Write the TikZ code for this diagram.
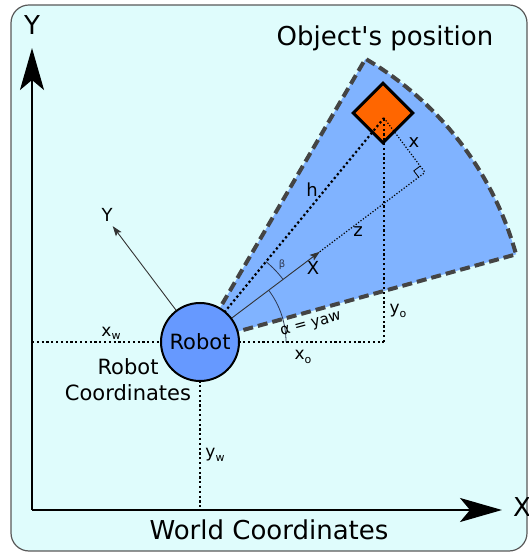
\documentclass[tikz,border=0pt]{standalone}
\usepackage{fontspec}
\setmainfont{DejaVu Sans}
\usetikzlibrary{arrows.meta,calc}
\definecolor{bgc}{RGB}{223,252,252}
\definecolor{sectc}{RGB}{128,179,255}
\definecolor{robc}{RGB}{102,153,255}
\definecolor{objc}{RGB}{255,102,0}
\definecolor{dashc}{RGB}{68,68,68}
\definecolor{arcc}{RGB}{45,55,80}
\newcommand{\fsz}[1]{\fontsize{#1}{#1}\selectfont}
\newcommand{\subw}[2]{#1\raisebox{-0.35ex}{\fsz{11}#2}}
\begin{document}
\begin{tikzpicture}[x=1pt,y=1pt,
  bigdot/.style={line width=2.2pt,dash pattern=on 2.2pt off 2.6pt,black},
  thindot/.style={line width=1.2pt,dash pattern=on 1.2pt off 1.8pt,black},
  worldaxis/.style={line width=2.4pt,-{Stealth[length=42pt,width=24pt,inset=10pt]}},
  robaxis/.style={line width=0.9pt,black!80,-{Stealth[length=10pt,width=7pt,inset=2pt]}},
  anglearc/.style={line width=0.8pt,arcc},
  lbl/.style={inner sep=0,font=\fsz{18}},
  biglbl/.style={inner sep=0,font=\fsz{26}}
]
\useasboundingbox (0,0) rectangle (528,552);
\draw[fill=bgc,draw=black!65,line width=1.2pt,rounded corners=18pt] (11,1) rectangle (527,547);

% key points
\coordinate (C) at (200,210);
\coordinate (O) at (384,434);
\coordinate (Xt) at ($(C)+(37:150)$);
\coordinate (Yt) at ($(C)+(127:145)$);
\coordinate (F) at ($(C)!(O)!(Xt)$);
\coordinate (xwL) at (32,210);
\coordinate (xo) at (384,210);
\coordinate (yw) at (200,42);
\coordinate (Orig) at (32,42);
\coordinate (Ytip) at (32,504);
\coordinate (Xtip) at (502,42);

% field of view sector
\filldraw[fill=sectc,draw=dashc,line width=4pt,dash pattern=on 10pt off 5pt]
  (C) -- ++(15.5:328) arc[start angle=15.5,end angle=59.7,radius=328] -- cycle;

% world axes
\draw[worldaxis] (Orig) -- (Ytip);
\draw[worldaxis] (Orig) -- (Xtip);
\node[biglbl] (Ylab) at (32,527) {Y};
\node[biglbl] (Xlab) at (522,45) {X};
\node[biglbl] (wc) at (269,22) {World Coordinates};
\node[biglbl] (op) at (385,514) {Object\textquotesingle s position};

% object
\node[draw,fill=objc,line width=3pt,minimum size=42pt,inner sep=0,rotate=45] (obj) at (383,439) {};

% dotted projections
\draw[bigdot] (xwL) -- (xo);
\draw[bigdot] (C) -- (yw);
\draw[bigdot] (xo) -- (O);
\draw[bigdot] (C) -- (O);
\draw[thindot] (O) -- (F);
\draw[thindot] (Xt) -- (F);
\coordinate (P1) at ($(F)!8pt!(C)$);
\coordinate (P2) at ($(F)!8pt!(O)$);
\draw[line width=0.8pt] (P1) -- ($(P1)+(P2)-(F)$) -- (P2);

% robot axes
\draw[robaxis] (C) -- (Xt);
\draw[robaxis] (C) -- (Yt);

% angle arcs
\draw[anglearc] ($(C)+(86,0)$) arc[start angle=0,end angle=37,radius=86];
\draw[anglearc] ($(C)+(37:104)$) arc[start angle=37,end angle=50.5,radius=104];

% robot
\node[circle,draw,fill=robc,line width=2pt,minimum size=78pt,inner sep=0,font=\fsz{21}] (robot) at (C) {Robot};
\node[inner sep=0,font=\fsz{21},align=center] (rc) at (128,172) {Robot\\[5pt]Coordinates};

% labels
\node[lbl] (lX) at (313,284) {X};
\node[lbl] (lY) at (107,337) {Y};
\node[lbl] (lz) at (358,320) {z};
\node[lbl] (lh) at (312,362) {h};
\node[lbl] (lx) at (414,409) {x};
\node[inner sep=0,font=\fsz{15},rotate=15] (lalpha) at (311,227) {α = yaw};
\node[inner sep=0,font=\fsz{10},text=arcc] (lbeta) at (282,287) {β};
\node[lbl,font=\fsz{17}] (lxw) at (111,219) {\subw{x}{w}};
\node[lbl,font=\fsz{17}] (lyw) at (215,97) {\subw{y}{w}};
\node[lbl,font=\fsz{17}] (lxo) at (303,195) {\subw{x}{o}};
\node[lbl,font=\fsz{17}] (lyo) at (398,241) {\subw{y}{o}};
\end{tikzpicture}
\end{document}
